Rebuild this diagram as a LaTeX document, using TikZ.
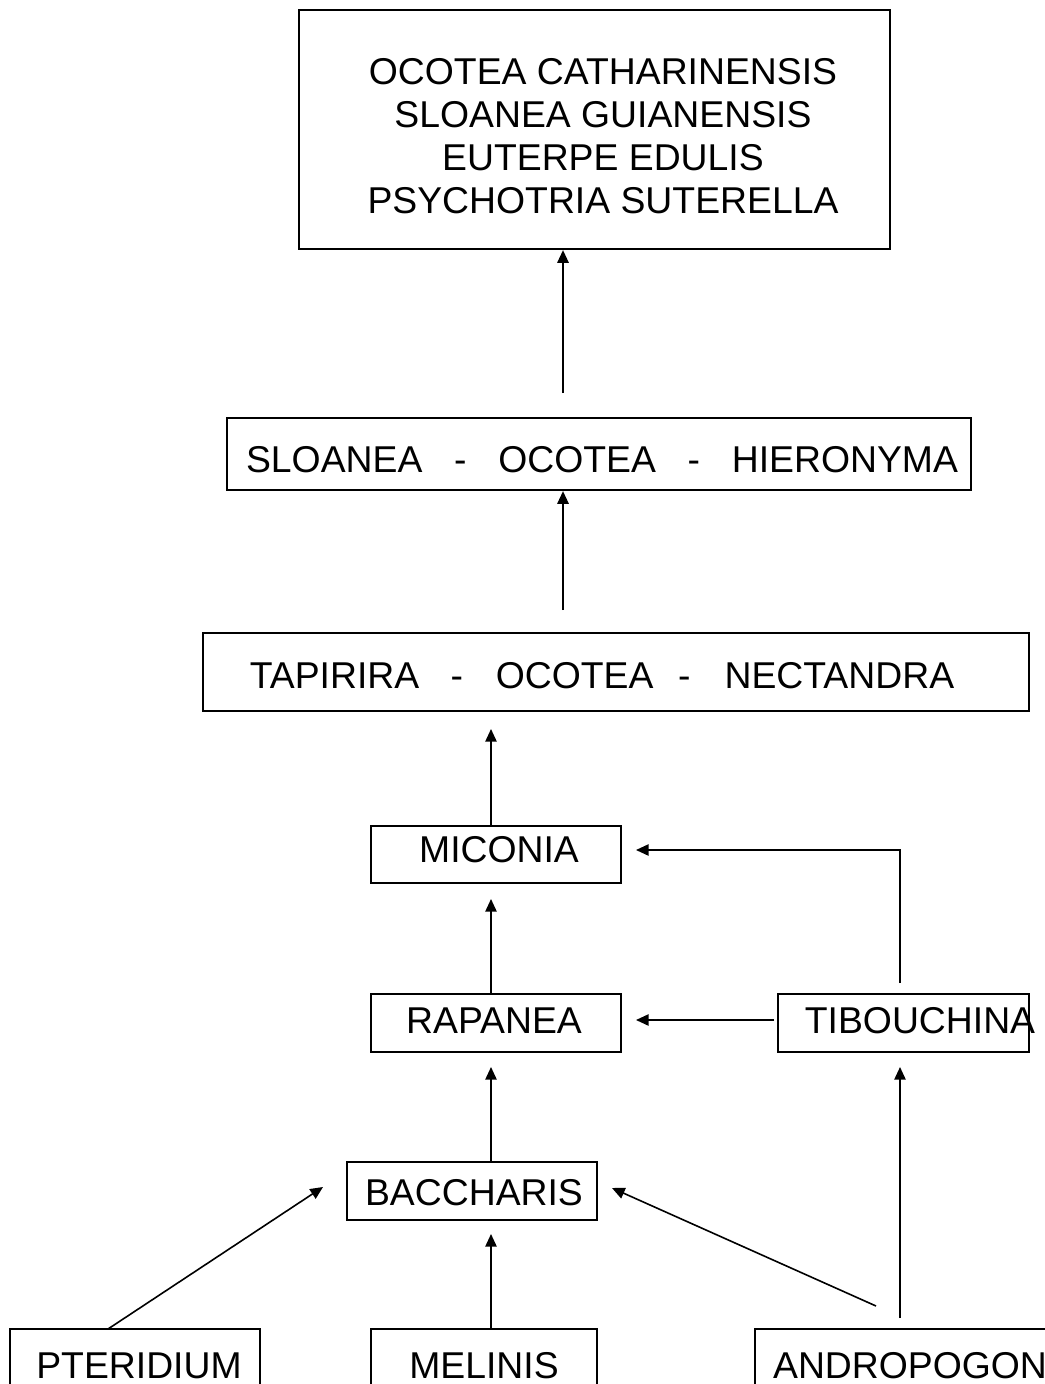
\documentclass[tikz,border=0pt]{standalone}
\usepackage{fontspec}
\setmainfont{Liberation Sans}
\usetikzlibrary{arrows.meta,fit}
\begin{document}
\begin{tikzpicture}[x=0.75pt,y=-0.75pt,
  box/.style={draw,line width=1.7pt,inner sep=0pt,rectangle},
  txt/.style={font=\fontsize{28}{32.25}\selectfont,inner sep=0pt,align=center},
  arr/.style={line width=1.2pt,-{Triangle[length=9.5pt,width=8.5pt]}}]
\useasboundingbox (0,0) rectangle (1045,1384);
\fill[white] (0,0) rectangle (1045,1384);
\clip (0,0) rectangle (1045,1384);
% boxes
\node[box,fit={(299,10) (890,249)}] (top) {};
\node[box,fit={(227,418) (971,490)}] (sl) {};
\node[box,fit={(203,633) (1029,711)}] (ta) {};
\node[box,fit={(371,826) (621,883)}] (mi) {};
\node[box,fit={(371,994) (621,1052)}] (ra) {};
\node[box,fit={(778,994) (1029,1052)}] (tib) {};
\node[box,fit={(347,1162) (597,1220)}] (ba) {};
\node[box,fit={(10,1329) (260,1430)}] (pt) {};
\node[box,fit={(371,1329) (597,1430)}] (me) {};
\node[box,fit={(755,1329) (1080,1430)}] (an) {};
% texts
\node[txt] (toptxt) at (603,136.5) {OCOTEA CATHARINENSIS\\SLOANEA GUIANENSIS\\EUTERPE EDULIS\\PSYCHOTRIA SUTERELLA};
\node[txt] (sltxt) at (602,460) {SLOANEA\hspace{0.85em}-\hspace{0.85em}OCOTEA\hspace{0.85em}-\hspace{0.85em}HIERONYMA};
\node[txt] (tatxt) at (602,676) {TAPIRIRA\hspace{0.84em}-\hspace{0.88em}OCOTEA\hspace{0.66em}-\hspace{0.91em}NECTANDRA};
\node[txt] (mitxt) at (499,850) {MICONIA};
\node[txt] (ratxt) at (494,1021) {RAPANEA};
\node[txt] (tibtxt) at (920,1021) {TIBOUCHINA};
\node[txt] (batxt) at (474,1193) {BACCHARIS};
\node[txt] (pttxt) at (139,1366) {PTERIDIUM};
\node[txt] (metxt) at (484,1366) {MELINIS};
\node[txt] (antxt) at (910,1366) {ANDROPOGON};
% connector ends
\coordinate (c1) at (563,393);
\coordinate (c2) at (563,610);
\coordinate (c3) at (491,729);
\coordinate (c4) at (491,899);
\coordinate (c5s) at (900,983);
\coordinate (c5e) at (636,850);
\coordinate (c6s) at (774,1020);
\coordinate (c6e) at (636,1020);
\coordinate (c7s) at (900,1318);
\coordinate (c7e) at (900,1067);
\coordinate (c8) at (491,1067);
\coordinate (c9) at (491,1234);
\coordinate (c10s) at (108,1329);
\coordinate (c10e) at (323,1187);
\coordinate (c11s) at (876,1306);
\coordinate (c11e) at (612,1188);
% connectors
\draw[arr] (c1) -- (c1 |- top.south);
\draw[arr] (c2) -- (c2 |- sl.south);
\draw[arr] (c3 |- mi.north) -- (c3);
\draw[arr] (c4 |- ra.north) -- (c4);
\draw[arr] (c5s) |- (c5e);
\draw[arr] (c6s) -- (c6e);
\draw[arr] (c7s) -- (c7e);
\draw[arr] (c8 |- ba.north) -- (c8);
\draw[arr] (c9 |- me.north) -- (c9);
\draw[arr] (c10s) -- (c10e);
\draw[arr] (c11s) -- (c11e);
\end{tikzpicture}
\end{document}
